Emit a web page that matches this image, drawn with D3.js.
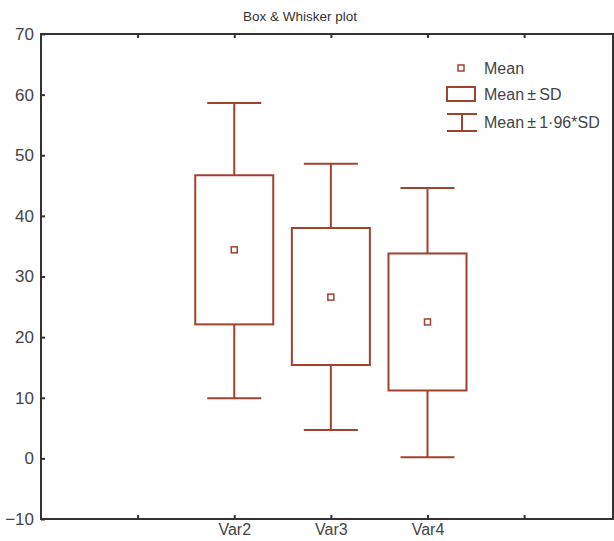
<!DOCTYPE html>
<html>
<head>
<meta charset="utf-8">
<script src="https://cdn.jsdelivr.net/npm/d3@7"></script>
<style>
  html, body { margin: 0; padding: 0; background: #fff; }
  svg text { font-family: "Liberation Sans", Arial, sans-serif; }
</style>
</head>
<body>
<div id="chart"></div>
<script>
// ---- data ----
const categories = ['Var2', 'Var3', 'Var4'];
const catPositions = [2, 3, 4];          // slots on the x axis (ticks at 1..5)
const means   = [34.4, 26.6, 22.5];
const sdLow   = [22.1, 15.4, 11.2];
const sdHigh  = [46.7, 38.0, 33.8];
const ciLow   = [9.9, 4.7, 0.2];
const ciHigh  = [58.6, 48.6, 44.6];
const yTicks  = [-10, 0, 10, 20, 30, 40, 50, 60, 70];
const xTicks  = [1, 2, 3, 4, 5];
const legendItems = ['Mean', 'Mean\u2009\u00B1\u2009SD', 'Mean\u2009\u00B1\u20091\u00B796*SD'];

const W = 614, H = 541;
const color = '#a3412f';
const axisColor = '#333';

const svg = d3.select('#chart').append('svg')
    .attr('width', W).attr('height', H);

const x = d3.scaleLinear().domain([0, 5.92]).range([41, 613]);
const y = d3.scaleLinear().domain([-10, 70]).range([519, 34]);

// Title
svg.append('text')
    .attr('x', 300).attr('y', 21)
    .attr('text-anchor', 'middle')
    .attr('font-size', 13.5).attr('fill', '#333')
    .text('Box & Whisker plot');

// Frame
svg.append('rect')
    .attr('x', x(0)).attr('y', y(70))
    .attr('width', x(5.92) - x(0)).attr('height', y(-10) - y(70))
    .attr('fill', 'none').attr('stroke', axisColor).attr('stroke-width', 2);

// Left axis (ticks inward)
const yAxis = svg.append('g')
    .attr('transform', `translate(${x(0)},0)`)
    .call(d3.axisLeft(y).tickValues(yTicks).tickSize(-4).tickPadding(7)
        .tickFormat(d => d < 0 ? '\u2212' + Math.abs(d) : d));
yAxis.select('.domain').remove();
yAxis.selectAll('line').attr('stroke', axisColor).attr('stroke-width', 2);
yAxis.selectAll('text').attr('font-size', 17).attr('fill', '#444')
    .attr('font-family', '"Liberation Sans", Arial, sans-serif');

// Bottom axis
const xAxis = svg.append('g')
    .attr('transform', `translate(0,${y(-10)})`)
    .call(d3.axisBottom(x).tickValues(xTicks).tickSize(-4).tickPadding(5)
        .tickFormat(d => {
            const i = catPositions.indexOf(d);
            return i >= 0 ? categories[i] : '';
        }));
xAxis.select('.domain').remove();
xAxis.selectAll('line').attr('stroke', axisColor).attr('stroke-width', 2);
xAxis.selectAll('text').attr('font-size', 16).attr('fill', '#444')
    .attr('font-family', '"Liberation Sans", Arial, sans-serif');

// Top axis ticks
const tAxis = svg.append('g')
    .attr('transform', `translate(0,${y(70)})`)
    .call(d3.axisTop(x).tickValues(xTicks).tickSize(-4).tickFormat(''));
tAxis.select('.domain').remove();
tAxis.selectAll('line').attr('stroke', axisColor).attr('stroke-width', 2);

// Boxes
const boxW = 78, capW = 54, markS = 6;
const data = categories.map((c, i) => ({
    pos: catPositions[i], mean: means[i],
    sdLo: sdLow[i], sdHi: sdHigh[i], ciLo: ciLow[i], ciHi: ciHigh[i]
}));

const g = svg.append('g')
    .attr('fill', 'none').attr('stroke', color).attr('stroke-width', 2);

const box = g.selectAll('g.box').data(data).enter().append('g');

box.append('line')
    .attr('x1', d => x(d.pos)).attr('x2', d => x(d.pos))
    .attr('y1', d => y(d.ciHi)).attr('y2', d => y(d.sdHi));
box.append('line')
    .attr('x1', d => x(d.pos)).attr('x2', d => x(d.pos))
    .attr('y1', d => y(d.sdLo)).attr('y2', d => y(d.ciLo));
box.append('line')
    .attr('x1', d => x(d.pos) - capW / 2).attr('x2', d => x(d.pos) + capW / 2)
    .attr('y1', d => y(d.ciHi)).attr('y2', d => y(d.ciHi));
box.append('line')
    .attr('x1', d => x(d.pos) - capW / 2).attr('x2', d => x(d.pos) + capW / 2)
    .attr('y1', d => y(d.ciLo)).attr('y2', d => y(d.ciLo));
box.append('rect')
    .attr('x', d => x(d.pos) - boxW / 2).attr('width', boxW)
    .attr('y', d => y(d.sdHi)).attr('height', d => y(d.sdLo) - y(d.sdHi));
box.append('rect')
    .attr('stroke-width', 1.5)
    .attr('x', d => x(d.pos) - markS / 2).attr('width', markS)
    .attr('y', d => y(d.mean) - markS / 2).attr('height', markS);

// Legend
const lg = svg.append('g').attr('transform', 'translate(447,68)');
const lgY = [0, 26, 54];
lg.append('rect').attr('x', 11).attr('y', lgY[0] - 3).attr('width', 6).attr('height', 6)
    .attr('fill', 'none').attr('stroke', color).attr('stroke-width', 1.5);
lg.append('rect').attr('x', 0).attr('y', lgY[1] - 7).attr('width', 28).attr('height', 14)
    .attr('fill', 'none').attr('stroke', color).attr('stroke-width', 2);
const ig = lg.append('g').attr('stroke', color).attr('stroke-width', 2);
ig.append('line').attr('x1', 0).attr('x2', 30).attr('y1', lgY[2] - 8).attr('y2', lgY[2] - 8);
ig.append('line').attr('x1', 0).attr('x2', 30).attr('y1', lgY[2] + 9).attr('y2', lgY[2] + 9);
ig.append('line').attr('x1', 15).attr('x2', 15).attr('y1', lgY[2] - 8).attr('y2', lgY[2] + 9);

lg.selectAll('text.lt').data(legendItems).enter().append('text')
    .attr('x', 37).attr('y', (d, i) => lgY[i])
    .attr('dy', '0.35em')
    .attr('font-size', 16).attr('fill', '#444')
    .text(d => d);
</script>
</body>
</html>
